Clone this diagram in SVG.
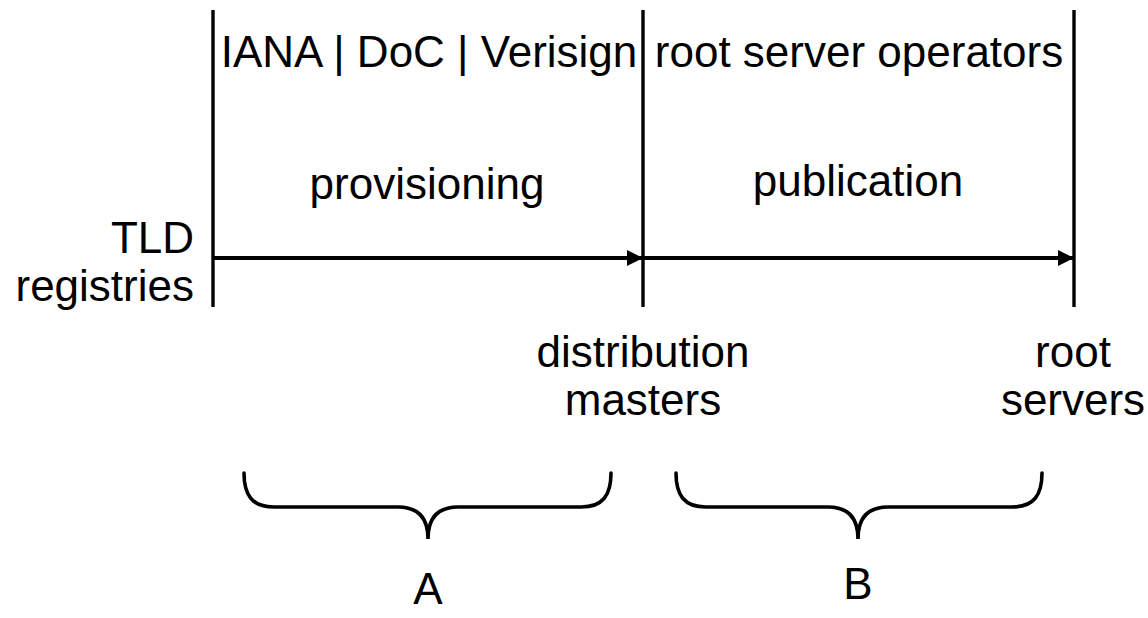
<svg xmlns="http://www.w3.org/2000/svg" width="1148" height="618" viewBox="0 0 1148 618">
<style>
text{font-family:"Liberation Sans",Arial,sans-serif;font-size:44px;fill:#000}
.v{stroke:#000;stroke-width:3.4;fill:none}
.h{stroke:#000;stroke-width:4;fill:none}
.br{stroke:#000;stroke-width:3.6;fill:none;stroke-linecap:round}
</style>
<defs>
<marker id="ah" markerWidth="16" markerHeight="16" refX="16" refY="8" orient="auto" markerUnits="userSpaceOnUse" viewBox="0 0 16 16">
<polygon points="0,0 16,8 0,16" fill="#000"/>
</marker>
</defs>
<rect width="1148" height="618" fill="#fff"/>
<g id="tld-registries">
<line class="v" x1="213" y1="10" x2="213" y2="307"/>
<text x="194" y="253" text-anchor="end">TLD</text>
<text x="194" y="301" text-anchor="end">registries</text>
</g>
<g id="distribution-masters">
<line class="v" x1="643" y1="10" x2="643" y2="307"/>
<text x="643" y="367" text-anchor="middle">distribution</text>
<text x="643" y="415" text-anchor="middle">masters</text>
</g>
<g id="root-servers">
<line class="v" x1="1074" y1="10" x2="1074" y2="307"/>
<text x="1073" y="367" text-anchor="middle">root</text>
<text x="1073" y="415" text-anchor="middle">servers</text>
</g>
<g id="labels">
<text x="429" y="67" text-anchor="middle">IANA | DoC | Verisign</text>
<text x="859" y="67" text-anchor="middle">root server operators</text>
<text x="427" y="199" text-anchor="middle">provisioning</text>
<text x="858" y="196" text-anchor="middle">publication</text>
</g>
<g id="connectors">
<line class="h" x1="213" y1="258" x2="643" y2="258" marker-end="url(#ah)"/>
<line class="h" x1="643" y1="258" x2="1074" y2="258" marker-end="url(#ah)"/>
</g>
<g id="brace-a">
<path class="br" d="M244,473 C244,495 252,507 274,507 L398,507 C418,507 428,518 428,539 C428,518 438,507 458,507 L581,507 C603,507 611,495 611,473"/>
<text x="428" y="604" text-anchor="middle">A</text>
</g>
<g id="brace-b">
<path class="br" d="M676,473 C676,495 684,507 706,507 L828,507 C848,507 858,518 858,539 C858,518 868,507 888,507 L1012,507 C1034,507 1042,495 1042,473"/>
<text x="858" y="599" text-anchor="middle">B</text>
</g>
</svg>
